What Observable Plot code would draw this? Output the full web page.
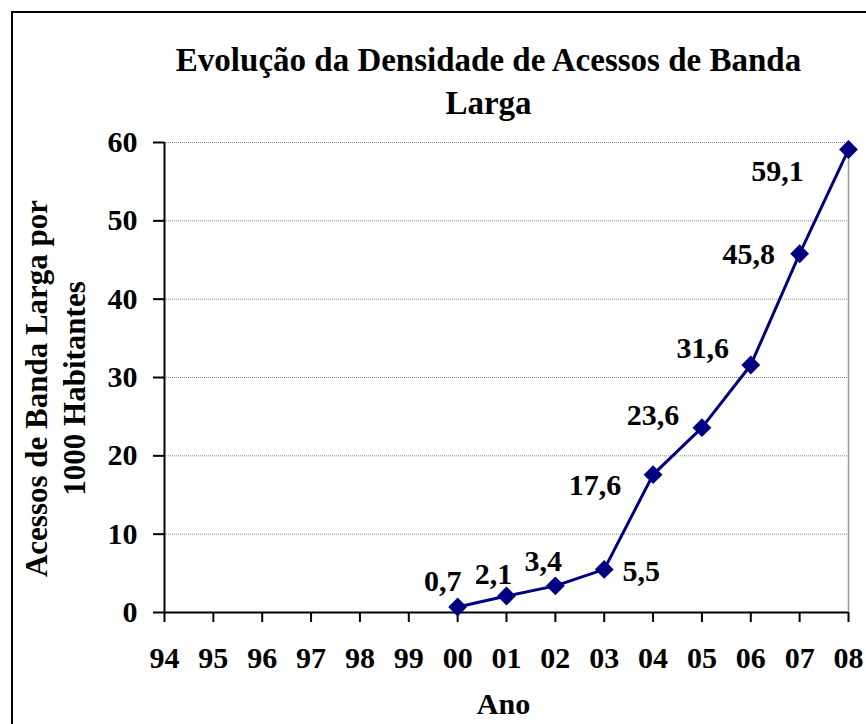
<!DOCTYPE html>
<html>
<head>
<meta charset="utf-8">
<script src="https://cdn.jsdelivr.net/npm/d3@7"></script>
<script src="https://cdn.jsdelivr.net/npm/@observablehq/plot@0.6"></script>
<style>
  html, body { margin: 0; padding: 0; background: #fff; overflow: hidden; }
  #wrap { position: relative; width: 866px; height: 724px; overflow: hidden; background: #fff; }
  #frame { position: absolute; left: 11px; top: 11px; width: 1000px; height: 1000px;
           border-left: 2px solid #000; border-top: 2px solid #000; box-sizing: border-box; }
  #chart { position: absolute; left: 0; top: 0; }
</style>
</head>
<body>
<div id="wrap"><div id="frame"></div><div id="chart"></div></div>
<script>
const years = ["94","95","96","97","98","99","00","01","02","03","04","05","06","07","08"];
const dataYears = ["00","01","02","03","04","05","06","07","08"];
const density = [0.7, 2.1, 3.4, 5.5, 17.6, 23.6, 31.6, 45.8, 59.1];
const valueLabels = ["0,7","2,1","3,4","5,5","17,6","23,6","31,6","45,8","59,1"];
const yTicks = [0, 10, 20, 30, 40, 50, 60];
const gridTicks = [10, 20, 30, 40, 50, 60];
const titleLines = ["Evolução da Densidade de Acessos de Banda", "Larga"];
const yLabelLines = ["Acessos de Banda Larga por", "1000 Habitantes"];
const xLabel = "Ano";

const data = dataYears.map((y, i) => ({year: y, value: density[i], label: valueLabels[i]}));

// label nudges (pixel offsets, styling only)
const labelNudge = [[-15,-26],[-13,-22],[-12,-24],[37,2],[-58,11],[-49,-12],[-48,-17],[-51,1],[-71,22]];

const font = "'Liberation Serif', 'Times New Roman', serif";
const navy = "#000080";

const labelMarks = data.map((d, i) => Plot.text([d], {
  x: "year", y: "value", text: "label",
  dx: labelNudge[i][0], dy: labelNudge[i][1],
  fontSize: 30, fontWeight: "bold", fill: "#000", lineAnchor: "middle", textAnchor: "middle"
}));

const chart = Plot.plot({
  width: 866,
  height: 724,
  marginLeft: 164,
  marginRight: 18,
  marginTop: 142,
  marginBottom: 112,
  style: {fontFamily: font, fontWeight: "bold", fontSize: "30px", color: "#000", background: "transparent", overflow: "visible"},
  x: {type: "point", domain: years, padding: 0, round: false},
  y: {domain: [0, 60]},
  marks: [
    Plot.ruleY(gridTicks, {stroke: "#8a8a8a", strokeWidth: 1, strokeDasharray: "1,1"}),
    Plot.ruleX(["08"], {y1: 0, y2: 60, stroke: "#999", strokeWidth: 1.5}),
    Plot.axisY({ticks: yTicks, tickSize: 11, tickPadding: 16, tickFormat: d => String(d),
      stroke: "#000", strokeWidth: 2, fontSize: 30, label: null}),
    Plot.axisX({tickSize: 10, tickPadding: 24, stroke: "#000", strokeWidth: 2, fontSize: 30, label: null}),
    Plot.ruleX(["94"], {y1: 0, y2: 60, stroke: "#000", strokeWidth: 2}),
    Plot.ruleY([0], {stroke: "#000", strokeWidth: 2}),
    Plot.line(data, {x: "year", y: "value", stroke: navy, strokeWidth: 3}),
    Plot.dot(data, {x: "year", y: "value", symbol: "diamond2", r: 8.5, fill: navy, stroke: "none"}),
    ...labelMarks,
    Plot.text([titleLines[0]], {frameAnchor: "top", textAnchor: "middle", dx: -18, dy: -82, fontSize: 33, fontWeight: "bold", lineAnchor: "middle"}),
    Plot.text([titleLines[1]], {frameAnchor: "top", textAnchor: "middle", dx: -18, dy: -39, fontSize: 33, fontWeight: "bold", lineAnchor: "middle"}),
    Plot.text([yLabelLines[0]], {frameAnchor: "left", textAnchor: "middle", rotate: -90, dx: -127, dy: 11, fontSize: 31, fontWeight: "bold", lineAnchor: "middle"}),
    Plot.text([yLabelLines[1]], {frameAnchor: "left", textAnchor: "middle", rotate: -90, dx: -89, dy: 11, fontSize: 31, fontWeight: "bold", lineAnchor: "middle"}),
    Plot.text([xLabel], {frameAnchor: "bottom", textAnchor: "middle", dx: -3, dy: 92, fontSize: 30, fontWeight: "bold", lineAnchor: "middle"})
  ]
});
document.getElementById("chart").appendChild(chart);
</script>
</body>
</html>
